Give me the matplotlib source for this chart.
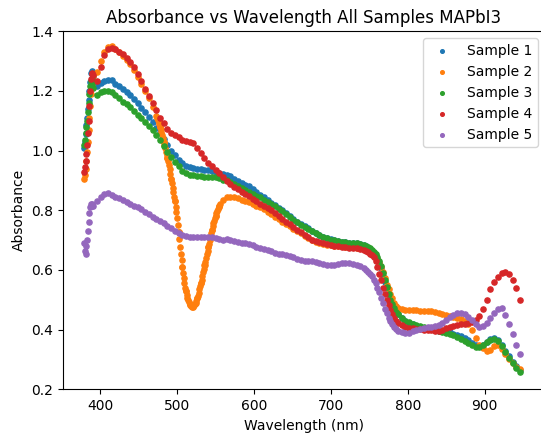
import numpy as np
import matplotlib
matplotlib.use("Agg")
import matplotlib.pyplot as plt

# wavelength sampling (nm): fine at the steep start and the band-edge drop
wavelength = np.concatenate([np.linspace(379, 390, 12),
                             np.linspace(391, 743, 74),
                             np.linspace(746, 787, 18),
                             np.linspace(792, 946, 33)])

sample1 = [1.01, 1.03, 1.055, 1.085, 1.11, 1.14, 1.17, 1.20, 1.23, 1.26, 1.268, 1.26,
           1.25, 1.218, 1.228, 1.234, 1.238, 1.236, 1.225, 1.215, 1.205, 1.196, 1.186, 1.173,
           1.16, 1.143, 1.128, 1.112, 1.095, 1.076, 1.058, 1.038, 1.018, 1.0, 0.985, 0.97,
           0.958, 0.95, 0.945, 0.942, 0.94, 0.938, 0.936, 0.934, 0.932, 0.928, 0.925, 0.922,
           0.92, 0.915, 0.905, 0.898, 0.892, 0.886, 0.88, 0.872, 0.862, 0.852, 0.843, 0.835,
           0.826, 0.818, 0.808, 0.8, 0.79, 0.78, 0.771, 0.762, 0.754, 0.747, 0.741, 0.732,
           0.725, 0.717, 0.712, 0.707, 0.703, 0.699, 0.697, 0.695, 0.693, 0.692, 0.69, 0.689,
           0.687, 0.683,
           0.68, 0.675, 0.67, 0.665, 0.658, 0.648, 0.638, 0.625, 0.605, 0.58, 0.56, 0.54,
           0.52, 0.505, 0.49, 0.475, 0.462, 0.452,
           0.44, 0.43, 0.423, 0.418, 0.413, 0.41, 0.407, 0.405, 0.403, 0.4, 0.397, 0.395,
           0.393, 0.391, 0.387, 0.383, 0.378, 0.372, 0.364, 0.356, 0.35, 0.345, 0.35, 0.36,
           0.369, 0.372, 0.366, 0.35, 0.33, 0.31, 0.292, 0.278, 0.265]

sample2 = [0.905, 0.92, 0.94, 0.965, 0.995, 1.03, 1.07, 1.11, 1.15, 1.19, 1.22, 1.24,
           1.25, 1.265, 1.30, 1.33, 1.347, 1.35, 1.342, 1.33, 1.318, 1.305, 1.29, 1.27,
           1.248, 1.225, 1.20, 1.175, 1.145, 1.115, 1.08, 1.03, 0.975, 0.905, 0.83, 0.727,
           0.61, 0.528, 0.486, 0.478, 0.505, 0.557, 0.616, 0.676, 0.735, 0.782, 0.816, 0.836,
           0.846, 0.846, 0.843, 0.84, 0.836, 0.832, 0.827, 0.822, 0.816, 0.81, 0.803, 0.795,
           0.787, 0.778, 0.77, 0.762, 0.754, 0.746, 0.739, 0.731, 0.723, 0.715, 0.707, 0.70,
           0.695, 0.69, 0.687, 0.685, 0.683, 0.681, 0.68, 0.679, 0.678, 0.677, 0.676, 0.675,
           0.673, 0.67,
           0.668, 0.665, 0.66, 0.655, 0.65, 0.645, 0.636, 0.625, 0.61, 0.592, 0.572, 0.55,
           0.535, 0.52, 0.505, 0.49, 0.48, 0.474,
           0.468, 0.467, 0.466, 0.466, 0.465, 0.464, 0.463, 0.462, 0.461, 0.459, 0.456, 0.452,
           0.449, 0.446, 0.443, 0.44, 0.436, 0.43, 0.418, 0.398, 0.372, 0.35, 0.337, 0.33,
           0.333, 0.345, 0.348, 0.335, 0.317, 0.3, 0.287, 0.276, 0.267]

# extra readings (about 1 nm apart) across the deep dip of sample 2
dip_wavelength = np.linspace(474, 556, 86)
sample2_dip = [1.11, 1.103, 1.096, 1.088, 1.08, 1.071, 1.061, 1.051, 1.041, 1.03,
               1.019, 1.008, 0.997, 0.986, 0.975, 0.965, 0.952, 0.938, 0.922, 0.905,
               0.89, 0.875, 0.86, 0.845, 0.83, 0.812, 0.793, 0.773, 0.75, 0.727,
               0.703, 0.678, 0.655, 0.632, 0.61, 0.59, 0.572, 0.556, 0.541, 0.528,
               0.517, 0.507, 0.499, 0.492, 0.486, 0.482, 0.479, 0.477, 0.477, 0.478,
               0.481, 0.485, 0.49, 0.497, 0.505, 0.514, 0.524, 0.535, 0.546, 0.557,
               0.568, 0.58, 0.592, 0.604, 0.616, 0.628, 0.64, 0.652, 0.664, 0.676,
               0.688, 0.70, 0.712, 0.724, 0.735, 0.746, 0.756, 0.765, 0.774, 0.782,
               0.79, 0.797, 0.804, 0.81, 0.816, 0.821]

sample3 = [1.02, 1.035, 1.06, 1.08, 1.10, 1.13, 1.16, 1.19, 1.215, 1.235, 1.24, 1.225,
           1.21, 1.186, 1.196, 1.20, 1.20, 1.197, 1.186, 1.175, 1.163, 1.155, 1.147, 1.133,
           1.12, 1.108, 1.096, 1.084, 1.07, 1.054, 1.034, 1.015, 0.995, 0.977, 0.962, 0.947,
           0.933, 0.925, 0.92, 0.918, 0.916, 0.915, 0.913, 0.912, 0.911, 0.91, 0.907, 0.903,
           0.90, 0.894, 0.887, 0.882, 0.875, 0.868, 0.862, 0.855, 0.848, 0.843, 0.836, 0.828,
           0.82, 0.815, 0.806, 0.797, 0.788, 0.778, 0.769, 0.76, 0.752, 0.744, 0.738, 0.731,
           0.724, 0.717, 0.711, 0.706, 0.702, 0.699, 0.697, 0.695, 0.693, 0.692, 0.69, 0.689,
           0.687, 0.684,
           0.682, 0.678, 0.672, 0.667, 0.66, 0.652, 0.642, 0.63, 0.612, 0.59, 0.567, 0.543,
           0.52, 0.50, 0.485, 0.472, 0.46, 0.452,
           0.44, 0.43, 0.424, 0.419, 0.415, 0.411, 0.408, 0.405, 0.402, 0.399, 0.396, 0.393,
           0.39, 0.386, 0.382, 0.376, 0.37, 0.362, 0.355, 0.348, 0.343, 0.343, 0.348, 0.358,
           0.366, 0.368, 0.362, 0.345, 0.325, 0.305, 0.288, 0.272, 0.258]

sample4 = [0.93, 0.945, 0.965, 0.99, 1.02, 1.06, 1.10, 1.15, 1.20, 1.24, 1.258, 1.26,
           1.255, 1.235, 1.28, 1.32, 1.342, 1.345, 1.34, 1.332, 1.323, 1.31, 1.298, 1.28,
           1.258, 1.235, 1.208, 1.183, 1.16, 1.135, 1.11, 1.092, 1.074, 1.06, 1.052, 1.045,
           1.037, 1.033, 1.03, 1.025, 1.008, 0.992, 0.975, 0.96, 0.947, 0.935, 0.924, 0.912,
           0.897, 0.888, 0.878, 0.87, 0.862, 0.855, 0.847, 0.838, 0.83, 0.822, 0.814, 0.807,
           0.80, 0.792, 0.782, 0.772, 0.762, 0.754, 0.745, 0.735, 0.727, 0.718, 0.71, 0.702,
           0.697, 0.693, 0.69, 0.687, 0.684, 0.682, 0.68, 0.678, 0.676, 0.675, 0.673, 0.672,
           0.67, 0.668,
           0.665, 0.66, 0.655, 0.65, 0.643, 0.63, 0.61, 0.588, 0.565, 0.54, 0.518, 0.50,
           0.482, 0.466, 0.452, 0.44, 0.43, 0.422,
           0.414, 0.41, 0.406, 0.404, 0.402, 0.401, 0.40, 0.399, 0.398, 0.397, 0.397, 0.40,
           0.405, 0.41, 0.413, 0.416, 0.418, 0.42, 0.422, 0.426, 0.432, 0.445, 0.47, 0.50,
           0.535, 0.56, 0.578, 0.59, 0.594, 0.585, 0.568, 0.54, 0.50]

sample5 = [0.69, 0.665, 0.652, 0.68, 0.70, 0.73, 0.76, 0.79, 0.81, 0.822, 0.82, 0.815,
           0.814, 0.83, 0.845, 0.856, 0.857, 0.85, 0.845, 0.84, 0.834, 0.828, 0.822, 0.816,
           0.81, 0.803, 0.795, 0.787, 0.779, 0.772, 0.765, 0.757, 0.748, 0.74, 0.732, 0.724,
           0.718, 0.714, 0.712, 0.711, 0.711, 0.711, 0.71, 0.71, 0.709, 0.706, 0.704, 0.702,
           0.705, 0.702, 0.697, 0.693, 0.69, 0.689, 0.688, 0.683, 0.678, 0.674, 0.67, 0.666,
           0.662, 0.658, 0.655, 0.652, 0.65, 0.647, 0.643, 0.636, 0.632, 0.631, 0.63, 0.629,
           0.627, 0.624, 0.621, 0.618, 0.617, 0.618, 0.62, 0.622, 0.623, 0.623, 0.621, 0.618,
           0.614, 0.605,
           0.60, 0.594, 0.588, 0.58, 0.568, 0.555, 0.54, 0.525, 0.505, 0.49, 0.47, 0.455,
           0.44, 0.43, 0.418, 0.408, 0.402, 0.397,
           0.392, 0.389, 0.39, 0.395, 0.399, 0.402, 0.405, 0.408, 0.41, 0.413, 0.416, 0.422,
           0.432, 0.442, 0.45, 0.455, 0.456, 0.452, 0.444, 0.432, 0.418, 0.41, 0.412, 0.422,
           0.438, 0.455, 0.468, 0.472, 0.45, 0.42, 0.385, 0.35, 0.32]

fig = plt.figure(figsize=(5.41, 4.36), dpi=100)
# axes run a little past the right edge of the saved image, as in the reference
ax = fig.add_axes([0.1161, 0.1071, 0.8915, 0.8211])
ax.spines['right'].set_visible(False)

ax.scatter(wavelength, sample1, s=14, label='Sample 1')
ax.scatter(np.concatenate([wavelength, dip_wavelength]),
           np.concatenate([sample2, sample2_dip]), s=14, label='Sample 2')
ax.scatter(wavelength, sample3, s=14, label='Sample 3')
ax.scatter(wavelength, sample4, s=14, label='Sample 4')
ax.scatter(wavelength, sample5, s=14, label='Sample 5')

ax.set_xlim(351.5, 978.5)
ax.set_ylim(0.2, 1.4)
ax.set_title('Absorbance vs Wavelength All Samples MAPbI3')
ax.set_xlabel('Wavelength (nm)')
ax.set_ylabel('Absorbance')
ax.legend(loc='upper right', markerscale=0.7)

fig.savefig('out.png', dpi=100)
